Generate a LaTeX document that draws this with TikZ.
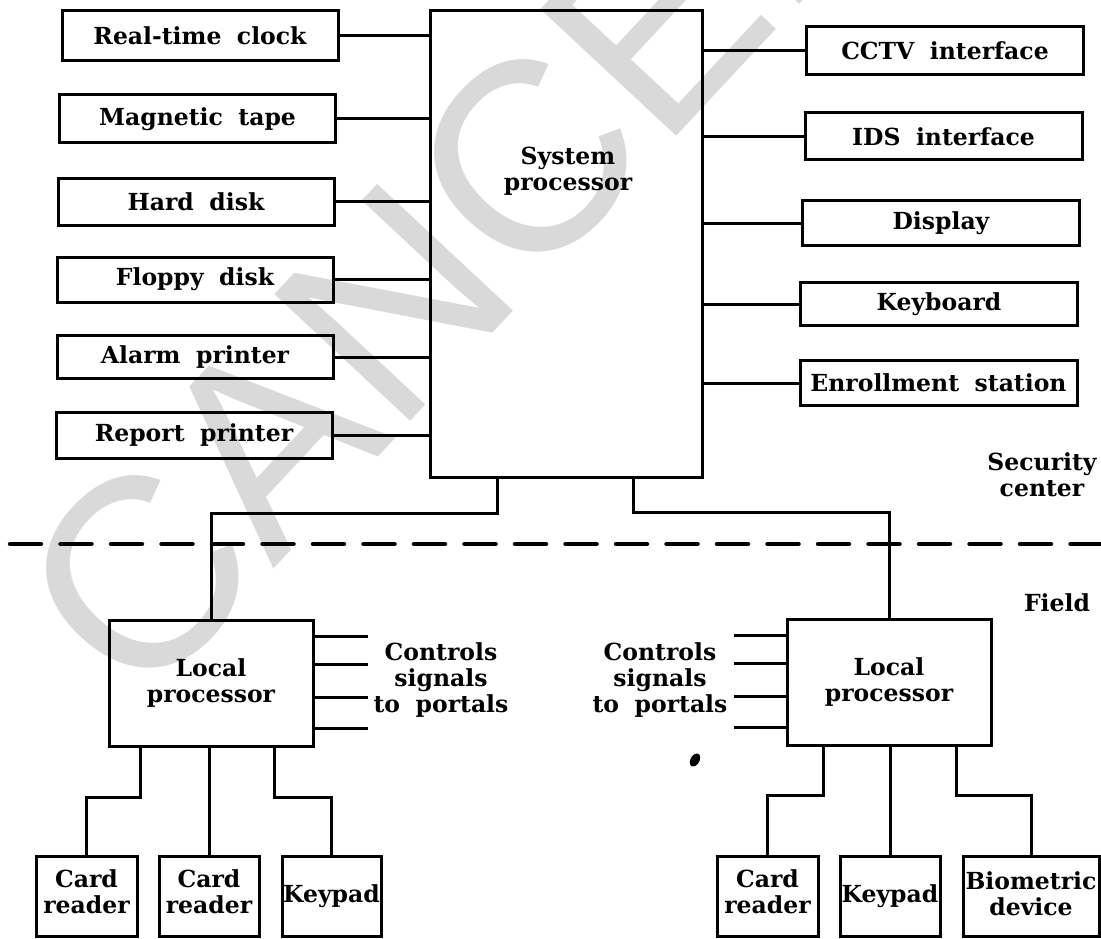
\documentclass[tikz,border=0pt]{standalone}
\usepackage{fontspec}
\setmainfont{DejaVu Serif}[WordSpace=1.9]
\newfontfamily\wmfont{Liberation Sans}
\newcommand{\lbl}{\fontsize{23.5}{26}\selectfont\bfseries}
\definecolor{wmgray}{RGB}{217,217,217}
\tikzset{
  box/.style={draw, line width=3pt, inner sep=0pt, font=\lbl, align=center},
  lbox/.style={box, minimum width=276pt},
  rbox/.style={box, minimum width=277pt},
  lpbox/.style={box, minimum width=204pt, minimum height=126pt},
  dev/.style={box, minimum height=80pt},
  wire/.style={line width=3pt},
  txt/.style={font=\lbl, align=center, inner sep=0pt},
  sep/.style={line width=4.5pt, dash pattern=on 31pt off 19.5pt, line cap=round}
}
\begin{document}
\begin{tikzpicture}[x=1pt, y=-1pt]
\useasboundingbox (0,0) rectangle (1101,939);
% watermark
\begin{scope}
\clip (0,0) rectangle (1101,939);
\node[wmgray, font=\wmfont\fontsize{270}{270}\selectfont, rotate=47, anchor=base west, inner sep=0pt] (wm) at (140,712) {CANCELLED};
\end{scope}
% system processor
\node[box, minimum width=272pt, minimum height=466pt] (sys) at (566,244) {};
\node[txt] (systxt) at (568,171) {System\\processor};
% left boxes
\node[lbox, minimum height=50pt] (rtc) at (200,36) {Real-time clock};
\node[lbox, minimum height=48pt] (mt) at (197.5,119) {Magnetic tape};
\node[lbox, minimum height=47pt] (hd) at (196,202) {Hard disk};
\node[lbox, minimum height=45pt] (fd) at (195,279.5) {Floppy disk};
\node[lbox, minimum height=43pt] (ap) at (195,357) {Alarm printer};
\node[lbox, minimum height=46pt] (rp) at (194,435) {Report printer};
% right boxes
\node[rbox, minimum height=48pt] (cctv) at (945,51) {CCTV interface};
\node[rbox, minimum height=47pt] (ids) at (943.5,136.5) {IDS interface};
\node[rbox, minimum height=45pt] (disp) at (941,223) {Display};
\node[rbox, minimum height=43pt] (kb) at (939,304) {Keyboard};
\node[rbox, minimum height=45pt] (enr) at (938.5,383) {Enrollment station};
% connectors to system processor
\foreach \n in {rtc,mt,hd,fd,ap,rp} {\draw[wire] (\n.east) -- (\n.east -| sys.west);}
\foreach \n in {cctv,ids,disp,kb,enr} {\draw[wire] (\n.west) -- (\n.west -| sys.east);}
% zone labels
\node[txt] (sec) at (1042,475) {Security\\center};
\node[txt] (fld) at (1057,603) {Field};
% separator
\coordinate (sepl) at (10,544);
\coordinate (sepr) at (1101,544);
\draw[sep] (sepl) -- (sepr);
% local processors
\node[lpbox] (lp1) at (211,683) {Local\\processor};
\node[lpbox] (lp2) at (889,682) {Local\\processor};
\draw[wire] (sys.south -| 497,0) -- (497,513) -| (lp1.north);
\draw[wire] (sys.south -| 633,0) -- (633,512) -| (lp2.north);
% control signal lines
\foreach \y in {636,664,697,728} {\draw[wire] (lp1.east |- 0,\y) -- ++(53,0);}
\foreach \y in {635,663,696,727} {\draw[wire] (lp2.west |- 0,\y) -- ++(-52,0);}
\node[txt] (ctl1) at (441,680) {Controls\\signals\\to portals};
\node[txt] (ctl2) at (660,680) {Controls\\signals\\to portals};
\fill[rotate around={-30:(695,760)}] (695,760) ellipse (4.5pt and 7pt);
% field devices left
\node[dev, minimum width=101pt, label={[txt, yshift=5pt]center:{Card\\reader}}] (cr1) at (86.5,896.5) {};
\node[dev, minimum width=100pt, label={[txt, yshift=5pt]center:{Card\\reader}}] (cr2) at (209,896.5) {};
\node[dev, minimum width=99pt] (kp1) at (331.5,896.5) {Keypad};
\draw[wire] (lp1.south -| 140,0) -- (140,797) -| (cr1.north);
\draw[wire] (lp1.south -| 209,0) -- (cr2.north);
\draw[wire] (lp1.south -| 274,0) -- (274,797) -| (kp1.north);
% field devices right
\node[dev, minimum width=101pt, label={[txt, yshift=5pt]center:{Card\\reader}}] (cr3) at (767.5,896.5) {};
\node[dev, minimum width=100pt] (kp2) at (890,896.5) {Keypad};
\node[dev, minimum width=136pt, label={[txt, yshift=3pt]center:{Biometric\\device}}] (bio) at (1031,896.5) {};
\draw[wire] (lp2.south -| 823,0) -- (823,795) -| (cr3.north);
\draw[wire] (lp2.south -| 890,0) -- (kp2.north);
\draw[wire] (lp2.south -| 956,0) -- (956,795) -| (bio.north);
\end{tikzpicture}
\end{document}
